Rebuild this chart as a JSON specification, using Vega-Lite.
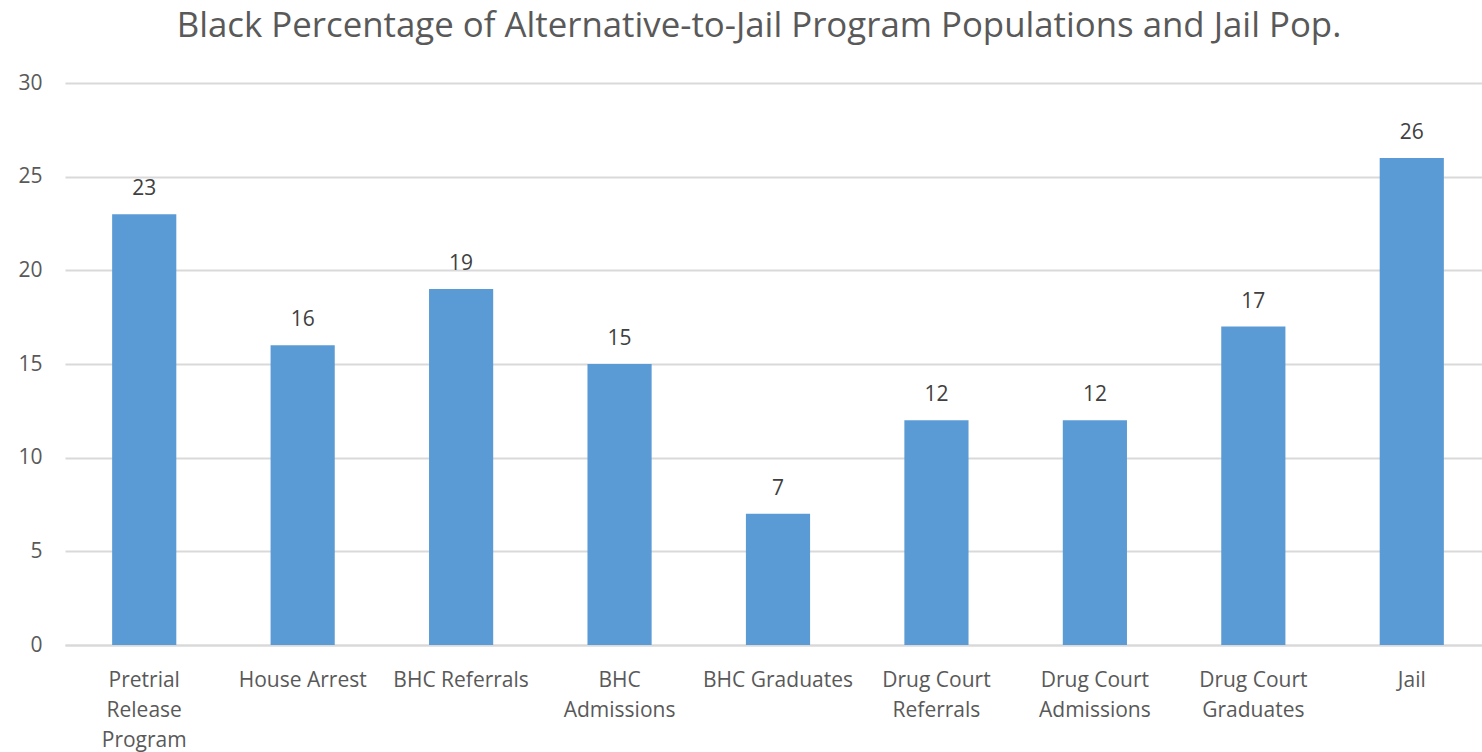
{
  "$schema": "https://vega.github.io/schema/vega-lite/v6.json",
  "autosize": "none",
  "width": 1426,
  "height": 562,
  "padding": {"left": 65, "top": 83, "right": 0, "bottom": 107},
  "background": "white",
  "title": {
    "text": "Black Percentage of Alternative-to-Jail Program Populations and Jail Pop.",
    "font": "Open Sans",
    "fontSize": 34.8,
    "fontWeight": "normal",
    "color": "#595959",
    "anchor": "middle",
    "baseline": "alphabetic",
    "offset": 0,
    "dx": -19
  },
  "data": {
    "values": [
      {"program": "Pretrial Release Program", "pct": 23},
      {"program": "House Arrest", "pct": 16},
      {"program": "BHC Referrals", "pct": 19},
      {"program": "BHC Admissions", "pct": 15},
      {"program": "BHC Graduates", "pct": 7},
      {"program": "Drug Court Referrals", "pct": 12},
      {"program": "Drug Court Admissions", "pct": 12},
      {"program": "Drug Court Graduates", "pct": 17},
      {"program": "Jail", "pct": 26}
    ]
  },
  "config": {
    "view": {"stroke": null},
    "font": "Open Sans"
  },
  "encoding": {
    "x": {
      "field": "program",
      "type": "nominal",
      "sort": null,
      "scale": {"paddingInner": 0.595, "paddingOuter": 0.2975},
      "axis": {
        "title": null,
        "labelAngle": 0,
        "labelFont": "Open Sans",
        "labelFontSize": 21,
        "labelColor": "#595959",
        "labelPadding": 24,
        "labelLineHeight": 30,
        "ticks": false,
        "domainColor": "#d9d9d9",
        "domainWidth": 2,
        "labelExpr": "datum.value == 'Pretrial Release Program' ? ['Pretrial','Release','Program'] : datum.value == 'BHC Admissions' ? ['BHC','Admissions'] : datum.value == 'Drug Court Referrals' ? ['Drug Court','Referrals'] : datum.value == 'Drug Court Admissions' ? ['Drug Court','Admissions'] : datum.value == 'Drug Court Graduates' ? ['Drug Court','Graduates'] : datum.value"
      }
    },
    "y": {
      "field": "pct",
      "type": "quantitative",
      "scale": {"domain": [0, 30]},
      "axis": {
        "title": null,
        "values": [0, 5, 10, 15, 20, 25, 30],
        "labelFont": "Open Sans",
        "labelFontSize": 21,
        "labelColor": "#595959",
        "labelPadding": 23,
        "ticks": false,
        "domain": false,
        "gridColor": "#d9d9d9",
        "gridWidth": 2
      }
    }
  },
  "layer": [
    {"mark": {"type": "bar", "color": "#5B9BD5"}},
    {
      "mark": {"type": "text", "dy": -25, "fontSize": 21, "color": "#404040", "font": "Open Sans"},
      "encoding": {"text": {"field": "pct", "type": "quantitative"}}
    }
  ]
}
